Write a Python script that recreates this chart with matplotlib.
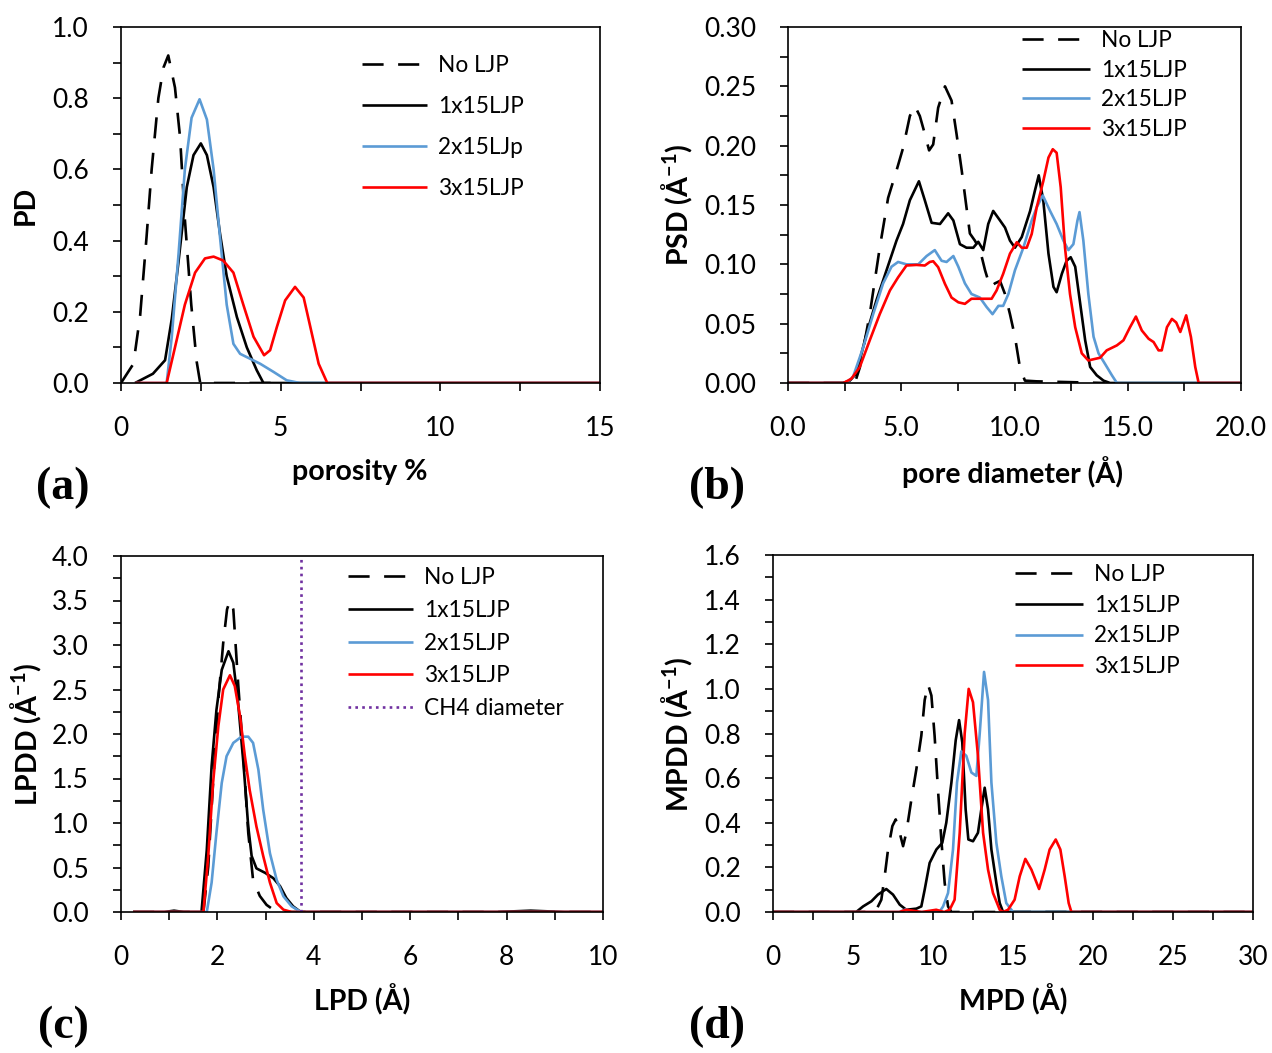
import matplotlib
matplotlib.use("Agg")
import matplotlib.pyplot as plt
from matplotlib.ticker import MultipleLocator, FormatStrFormatter

plt.rcParams.update({
    "font.family": ["Lato", "DejaVu Sans"],
    "font.size": 19,
    "mathtext.default": "regular",
})

W, H = 1272, 1053
BLACK, BLUE, RED, PURPLE = "#000000", "#5B9BD5", "#FF0000", "#7030A0"

# ---- (a) porosity distribution ----
a_nolj_x = [0, 0.39, 0.6, 0.8, 0.96, 1.17, 1.33, 1.48, 1.69, 1.85, 2.0, 2.2, 2.37, 2.48, 3.5, 5.0]
a_nolj_y = [0, 0.054, 0.19, 0.41, 0.6, 0.80, 0.886, 0.92, 0.83, 0.69, 0.46, 0.22, 0.06, 0, 0, 0]
a_1x_x = [0.44, 1.0, 1.38, 1.59, 1.8, 2.06, 2.27, 2.5, 2.69, 2.9, 3.1, 3.31, 3.63, 3.94, 4.25, 4.46, 15]
a_1x_y = [0, 0.026, 0.064, 0.18, 0.34, 0.55, 0.64, 0.673, 0.64, 0.55, 0.42, 0.30, 0.185, 0.10, 0.036, 0, 0]
a_2x_x = [0.45, 1.43, 1.59, 1.8, 2.0, 2.21, 2.46, 2.69, 2.9, 3.1, 3.31, 3.52, 3.73, 4.36, 4.78, 5.19, 5.6, 15]
a_2x_y = [0, 0, 0.13, 0.36, 0.6, 0.745, 0.797, 0.74, 0.6, 0.41, 0.22, 0.11, 0.082, 0.054, 0.031, 0.0075, 0, 0]
a_3x_x = [0.45, 1.43, 1.69, 2.0, 2.32, 2.63, 2.9, 3.2, 3.52, 3.83, 4.15, 4.48, 4.67, 4.88, 5.14, 5.45,
          5.72, 5.93, 6.19, 6.46, 15]
a_3x_y = [0, 0, 0.10, 0.22, 0.31, 0.35, 0.355, 0.344, 0.31, 0.22, 0.13, 0.078, 0.092, 0.157, 0.232, 0.27,
          0.24, 0.157, 0.054, 0, 0]

# ---- (b) pore size distribution ----
b_nolj_x = [0, 2.95, 3.17, 3.61, 4.05, 4.42, 4.79, 5.08, 5.38, 5.6, 5.82, 6.04, 6.23, 6.41, 6.63, 6.93,
            7.22, 7.44, 7.67, 7.88, 8.03, 8.25, 8.48, 8.7, 8.92, 9.14, 9.36, 9.58, 9.8, 10.02, 10.24,
            10.46, 10.98, 14.0]
b_nolj_y = [0, 0, 0.013, 0.058, 0.114, 0.156, 0.179, 0.198, 0.225, 0.2335, 0.225, 0.21, 0.196, 0.201,
            0.232, 0.25, 0.238, 0.21, 0.179, 0.148, 0.126, 0.12, 0.112, 0.095, 0.081, 0.084, 0.086,
            0.075, 0.058, 0.039, 0.013, 0.002, 0.0014, 0]
b_1x_x = [0, 2.43, 2.73, 3.02, 3.46, 3.91, 4.35, 4.79, 5.08, 5.38, 5.78, 6.04, 6.34, 6.71, 7.07, 7.3,
          7.59, 7.88, 8.18, 8.4, 8.62, 8.84, 9.06, 9.36, 9.58, 9.8, 10.02, 10.32, 10.69, 10.9, 11.07,
          11.27, 11.5, 11.72, 11.86, 12.09, 12.3, 12.48, 12.68, 12.9, 13.12, 13.34, 13.63, 13.93, 14.22, 20]
b_1x_y = [0, 0, 0.002, 0.008, 0.041, 0.07, 0.095, 0.12, 0.134, 0.154, 0.17, 0.154, 0.135, 0.134, 0.143,
          0.137, 0.117, 0.114, 0.114, 0.119, 0.112, 0.134, 0.145, 0.137, 0.131, 0.12, 0.114, 0.123,
          0.145, 0.162, 0.175, 0.154, 0.109, 0.081, 0.0765, 0.092, 0.103, 0.106, 0.098, 0.067, 0.036,
          0.0135, 0.0065, 0.002, 0, 0]
b_2x_x = [0, 2.55, 2.87, 3.32, 3.76, 4.2, 4.57, 4.86, 5.23, 5.75, 6.12, 6.48, 6.78, 7.0, 7.3, 7.52,
          7.81, 8.1, 8.47, 8.77, 9.03, 9.29, 9.5, 9.73, 10.02, 10.39, 10.76, 10.98, 11.25, 11.57, 11.86,
          12.16, 12.38, 12.6, 12.78, 12.87, 13.04, 13.26, 13.49, 13.71, 14.0, 14.3, 14.52, 20]
b_2x_y = [0, 0, 0.005, 0.03, 0.058, 0.084, 0.098, 0.102, 0.1, 0.1, 0.107, 0.112, 0.103, 0.102, 0.107,
          0.098, 0.084, 0.075, 0.072, 0.064, 0.058, 0.065, 0.065, 0.075, 0.095, 0.114, 0.137, 0.148,
          0.158, 0.145, 0.134, 0.12, 0.112, 0.117, 0.137, 0.144, 0.12, 0.075, 0.039, 0.025, 0.016,
          0.0065, 0, 0]
b_3x_x = [0, 2.45, 2.8, 3.17, 3.61, 4.05, 4.5, 4.86, 5.23, 5.67, 6.04, 6.26, 6.41, 6.63, 6.93, 7.22,
          7.52, 7.81, 8.1, 8.62, 8.99, 9.21, 9.5, 9.8, 10.1, 10.32, 10.54, 10.76, 10.98, 11.27, 11.5,
          11.69, 11.86, 12.04, 12.23, 12.45, 12.68, 12.97, 13.26, 13.78, 14.07, 14.52, 14.81, 15.1,
          15.36, 15.62, 15.92, 16.14, 16.36, 16.5, 16.73, 16.95, 17.14, 17.32, 17.58, 17.79, 17.98,
          18.13, 20]
b_3x_y = [0, 0, 0.0036, 0.0135, 0.036, 0.058, 0.078, 0.089, 0.099, 0.0995, 0.099, 0.102, 0.1026,
          0.0976, 0.0835, 0.072, 0.068, 0.0667, 0.071, 0.071, 0.071, 0.078, 0.092, 0.109, 0.1186,
          0.114, 0.114, 0.1256, 0.148, 0.17, 0.19, 0.197, 0.194, 0.165, 0.114, 0.075, 0.047, 0.025,
          0.019, 0.0213, 0.0275, 0.0317, 0.036, 0.047, 0.056, 0.0443, 0.0373, 0.0345, 0.0275, 0.0275,
          0.047, 0.054, 0.051, 0.043, 0.057, 0.0387, 0.0135, 0, 0]

# ---- (c) limiting pore diameter distribution ----
c_nolj_x = [0.25, 1.71, 1.81, 1.91, 2.02, 2.12, 2.2, 2.26, 2.33, 2.43, 2.54, 2.64, 2.74, 2.88, 3.02,
            3.16, 3.3, 10]
c_nolj_y = [0, 0, 0.51, 1.45, 2.39, 3.02, 3.4, 3.5, 3.4, 2.57, 1.75, 0.89, 0.36, 0.18, 0.08, 0.026, 0, 0]
c_1x_x = [0.25, 0.9, 1.1, 1.3, 1.67, 1.78, 1.88, 1.98, 2.09, 2.23, 2.33, 2.43, 2.54, 2.64, 2.71, 2.81,
          2.99, 3.16, 3.3, 3.43, 3.57, 3.71, 3.78, 7.8, 8.5, 9.2, 10]
c_1x_y = [0, 0, 0.015, 0, 0, 0.7, 1.64, 2.27, 2.72, 2.93, 2.8, 2.35, 1.67, 0.96, 0.63, 0.49, 0.44, 0.38,
          0.29, 0.157, 0.064, 0.0075, 0, 0, 0.015, 0, 0]
c_2x_x = [0.25, 1.78, 1.88, 1.98, 2.09, 2.19, 2.33, 2.5, 2.64, 2.74, 2.85, 2.95, 3.09, 3.23, 3.37, 3.54,
          3.71, 3.78, 10]
c_2x_y = [0, 0, 0.33, 0.89, 1.45, 1.75, 1.9, 1.97, 1.97, 1.9, 1.6, 1.15, 0.66, 0.36, 0.176, 0.064,
          0.0075, 0, 0]
c_3x_x = [0.25, 1.71, 1.81, 1.91, 2.02, 2.12, 2.26, 2.36, 2.47, 2.57, 2.67, 2.81, 2.95, 3.09, 3.23,
          3.37, 3.54, 10]
c_3x_y = [0, 0, 0.63, 1.45, 2.09, 2.5, 2.66, 2.54, 2.2, 1.75, 1.37, 0.96, 0.63, 0.33, 0.1, 0.026, 0, 0]
ch4_diameter = 3.73

# ---- (d) maximum pore diameter distribution ----
d_nolj_x = [0, 6.25, 6.46, 6.77, 6.98, 7.19, 7.46, 7.67, 7.92, 8.13, 8.33, 8.65, 8.96, 9.27, 9.48, 9.69,
            9.9, 10.1, 10.31, 10.52, 10.73, 10.94, 11.15, 30]
d_nolj_y = [0, 0, 0.01, 0.055, 0.16, 0.28, 0.385, 0.415, 0.355, 0.295, 0.355, 0.505, 0.64, 0.79, 0.95,
            1.02, 0.97, 0.79, 0.55, 0.325, 0.13, 0.025, 0, 0]
d_1x_x = [0, 5.2, 5.63, 6.15, 6.56, 7.08, 7.5, 7.92, 8.33, 8.96, 9.27, 9.48, 9.79, 10.21, 10.58, 10.83,
          11.15, 11.42, 11.63, 11.83, 12.04, 12.21, 12.5, 12.81, 13.02, 13.23, 13.44, 13.65, 13.96, 14.17,
          14.38, 30]
d_1x_y = [0, 0, 0.025, 0.048, 0.078, 0.103, 0.078, 0.033, 0.01, 0.015, 0.025, 0.1, 0.22, 0.28, 0.31,
          0.4, 0.58, 0.77, 0.86, 0.76, 0.46, 0.325, 0.317, 0.355, 0.46, 0.557, 0.46, 0.28, 0.13, 0.04, 0, 0]
d_2x_x = [0, 7.9, 8.3, 8.7, 10.4, 10.63, 10.94, 11.25, 11.5, 11.77, 12.08, 12.4, 12.71, 12.92, 13.19,
          13.44, 13.65, 13.96, 14.27, 14.58, 15.0, 30]
d_2x_y = [0, 0, 0.012, 0, 0, 0.025, 0.085, 0.28, 0.58, 0.72, 0.7, 0.625, 0.61, 0.8, 1.076, 0.95, 0.58,
          0.31, 0.16, 0.04, 0, 0]
d_3x_x = [0, 7.9, 8.33, 9.3, 10.2, 10.7, 11.04, 11.35, 11.67, 11.98, 12.23, 12.5, 12.81, 13.13, 13.44,
          13.75, 14.17, 14.38, 14.69, 15.1, 15.42, 15.77, 16.15, 16.63, 16.98, 17.29, 17.67, 17.96, 18.23,
          18.48, 18.65, 30]
d_3x_y = [0, 0, 0.01, 0, 0.01, 0, 0.01, 0.055, 0.355, 0.8, 1.0, 0.94, 0.7, 0.355, 0.19, 0.085, 0.01, 0,
          0.01, 0.055, 0.16, 0.238, 0.19, 0.103, 0.19, 0.28, 0.325, 0.28, 0.16, 0.04, 0, 0]


def px(x, y):
    return x / W, 1 - y / H


def setup(ax, xmax, xmaj, xmin, ymax, ymaj, ymin, xfmt, yfmt):
    ax.set_xlim(0, xmax)
    ax.set_ylim(0, ymax)
    ax.xaxis.set_major_locator(MultipleLocator(xmaj))
    ax.xaxis.set_minor_locator(MultipleLocator(xmin))
    ax.yaxis.set_major_locator(MultipleLocator(ymaj))
    ax.yaxis.set_minor_locator(MultipleLocator(ymin))
    ax.xaxis.set_major_formatter(FormatStrFormatter(xfmt))
    ax.yaxis.set_major_formatter(FormatStrFormatter(yfmt))
    ax.tick_params(which="both", direction="out", length=5.5, width=1.2, colors="black")
    ax.tick_params(axis="x", which="major", pad=18.5)
    ax.tick_params(axis="y", which="major", pad=17.5)
    for s in ax.spines.values():
        s.set_linewidth(1.2)


def curves(ax, xs, ys, labels):
    styles = [dict(color=BLACK, ls=(0, (8, 5.5))), dict(color=BLACK), dict(color=BLUE), dict(color=RED)]
    for x, y, lab, st in zip(xs, ys, labels, styles):
        ax.plot(x, y, lw=1.9, label=lab, solid_capstyle="butt", **st)


def legend(ax, x, y, spacing, hlen):
    ax.legend(loc="upper left", bbox_to_anchor=px(x, y), bbox_transform=fig.transFigure,
              frameon=False, fontsize=16.3, borderpad=0, borderaxespad=0,
              handlelength=hlen, handletextpad=0.5, labelspacing=spacing)


fig = plt.figure(figsize=(W / 100, H / 100), dpi=100)

ax_a = fig.add_axes([121 / W, 1 - 383 / H, 479 / W, 356 / H])
ax_b = fig.add_axes([788 / W, 1 - 383 / H, 453 / W, 356 / H])
ax_c = fig.add_axes([121 / W, 1 - 912 / H, 482 / W, 356 / H])
ax_d = fig.add_axes([773 / W, 1 - 912 / H, 480 / W, 357 / H])

curves(ax_a, [a_nolj_x, a_1x_x, a_2x_x, a_3x_x], [a_nolj_y, a_1x_y, a_2x_y, a_3x_y],
       ["No LJP", "1x15LJP", "2x15LJp", "3x15LJP"])
setup(ax_a, 15, 5, 2.5, 1.0, 0.2, 0.1, "%d", "%.1f")
legend(ax_a, 362, 55, 0.88, 2.85)

curves(ax_b, [b_nolj_x, b_1x_x, b_2x_x, b_3x_x], [b_nolj_y, b_1x_y, b_2x_y, b_3x_y],
       ["No LJP", "1x15LJP", "2x15LJP", "3x15LJP"])
setup(ax_b, 20, 5, 2.5, 0.30, 0.05, 0.025, "%.1f", "%.2f")
legend(ax_b, 1022, 30, 0.38, 3.0)

curves(ax_c, [c_nolj_x, c_1x_x, c_2x_x, c_3x_x], [c_nolj_y, c_1x_y, c_2x_y, c_3x_y],
       ["No LJP", "1x15LJP", "2x15LJP", "3x15LJP"])
ax_c.axvline(ch4_diameter, color=PURPLE, lw=1.9, ls=(0, (1, 1.6)), label="CH4 diameter")
setup(ax_c, 10, 2, 1, 4.0, 0.5, 0.25, "%d", "%.1f")
legend(ax_c, 348, 567, 0.52, 2.85)

curves(ax_d, [d_nolj_x, d_1x_x, d_2x_x, d_3x_x], [d_nolj_y, d_1x_y, d_2x_y, d_3x_y],
       ["No LJP", "1x15LJP", "2x15LJP", "3x15LJP"])
setup(ax_d, 30, 5, 2.5, 1.6, 0.2, 0.1, "%d", "%.1f")
legend(ax_d, 1015, 564, 0.43, 3.0)

# axis titles
lab = dict(fontsize=20.5, fontweight="bold", ha="center", va="center")
fig.text(*px(360, 472), "porosity %", **lab)
fig.text(*px(1013, 472), "pore diameter (Å)", **lab)
fig.text(*px(362, 1000), "LPD (Å)", **lab)
fig.text(*px(1013, 1000), "MPD (Å)", **lab)
fig.text(*px(26, 205), "PD", rotation=90, **lab)
fig.text(*px(677, 205), "PSD (Å$^{-1}$)", rotation=90, **lab)
fig.text(*px(26, 734), "LPDD (Å$^{-1}$)", rotation=90, **lab)
fig.text(*px(677, 734), "MPDD (Å$^{-1}$)", rotation=90, **lab)

# panel letters
pl = dict(fontsize=33, fontweight="bold", family="Liberation Serif", ha="center", va="center")
fig.text(*px(63, 488), "(a)", **pl)
fig.text(*px(717, 488), "(b)", **pl)
fig.text(*px(63, 1027), "(c)", **pl)
fig.text(*px(717, 1027), "(d)", **pl)

fig.savefig("out.png", dpi=100)
